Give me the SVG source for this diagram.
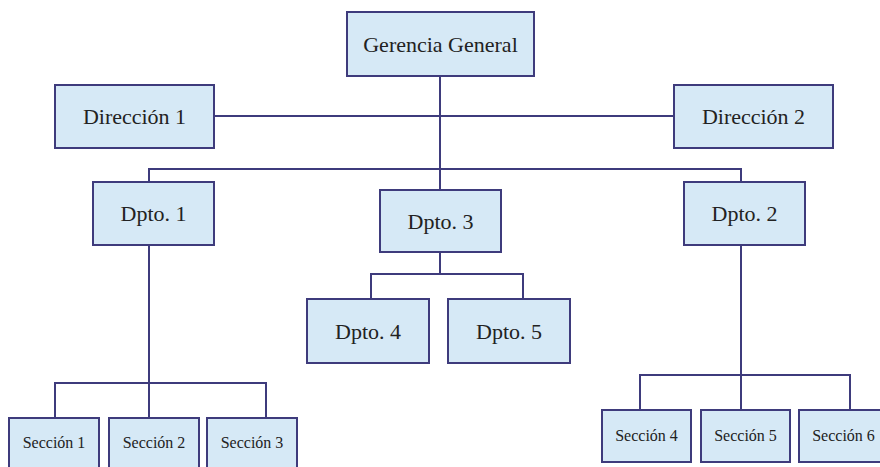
<svg xmlns="http://www.w3.org/2000/svg" width="880" height="467" viewBox="0 0 880 467">
<style>
.box{fill:#d6e9f6;stroke:#3e3b7c;stroke-width:2}
.ln{fill:none;stroke:#3e3b7c;stroke-width:2}
.t{font-family:"Liberation Serif","Times New Roman",serif;fill:#222;text-anchor:middle}
.l{font-size:22px}
.s{font-size:16px}
</style>
<rect width="880" height="467" fill="#ffffff"/>
<g id="connectors">
<path class="ln" d="M440 76V274"/>
<path class="ln" d="M214 116H674"/>
<path class="ln" d="M149 182V169H741V182"/>
<path class="ln" d="M371 299V274H523V299"/>
<path class="ln" d="M149 245V418"/>
<path class="ln" d="M55 418V383H266V418"/>
<path class="ln" d="M741 245V410"/>
<path class="ln" d="M640 410V375H850V410"/>
</g>
<g id="gerencia"><rect class="box" x="347" y="12" width="187" height="64"/><text class="t l" x="440.5" y="52">Gerencia General</text></g>
<g id="direccion1"><rect class="box" x="55" y="85" width="159" height="63"/><text class="t l" x="134.5" y="124">Dirección 1</text></g>
<g id="direccion2"><rect class="box" x="674" y="85" width="159" height="63"/><text class="t l" x="753.5" y="124">Dirección 2</text></g>
<g id="dpto1"><rect class="box" x="93" y="182" width="121" height="63"/><text class="t l" x="153.5" y="221">Dpto. 1</text></g>
<g id="dpto2"><rect class="box" x="684" y="182" width="121" height="63"/><text class="t l" x="744.5" y="221">Dpto. 2</text></g>
<g id="dpto3"><rect class="box" x="380" y="190" width="121" height="62"/><text class="t l" x="440.5" y="229">Dpto. 3</text></g>
<g id="dpto4"><rect class="box" x="307" y="299" width="122" height="64"/><text class="t l" x="368" y="339">Dpto. 4</text></g>
<g id="dpto5"><rect class="box" x="448" y="299" width="122" height="64"/><text class="t l" x="509" y="339">Dpto. 5</text></g>
<g id="seccion1"><rect class="box" x="9" y="418" width="90" height="55"/><text class="t s" x="54" y="448">Sección 1</text></g>
<g id="seccion2"><rect class="box" x="109" y="418" width="90" height="55"/><text class="t s" x="154" y="448">Sección 2</text></g>
<g id="seccion3"><rect class="box" x="207" y="418" width="90" height="55"/><text class="t s" x="252" y="448">Sección 3</text></g>
<g id="seccion4"><rect class="box" x="602" y="410" width="89" height="52"/><text class="t s" x="646.5" y="441">Sección 4</text></g>
<g id="seccion5"><rect class="box" x="701" y="410" width="89" height="52"/><text class="t s" x="745.5" y="441">Sección 5</text></g>
<g id="seccion6"><rect class="box" x="799" y="410" width="89" height="52"/><text class="t s" x="843.5" y="441">Sección 6</text></g>
</svg>
